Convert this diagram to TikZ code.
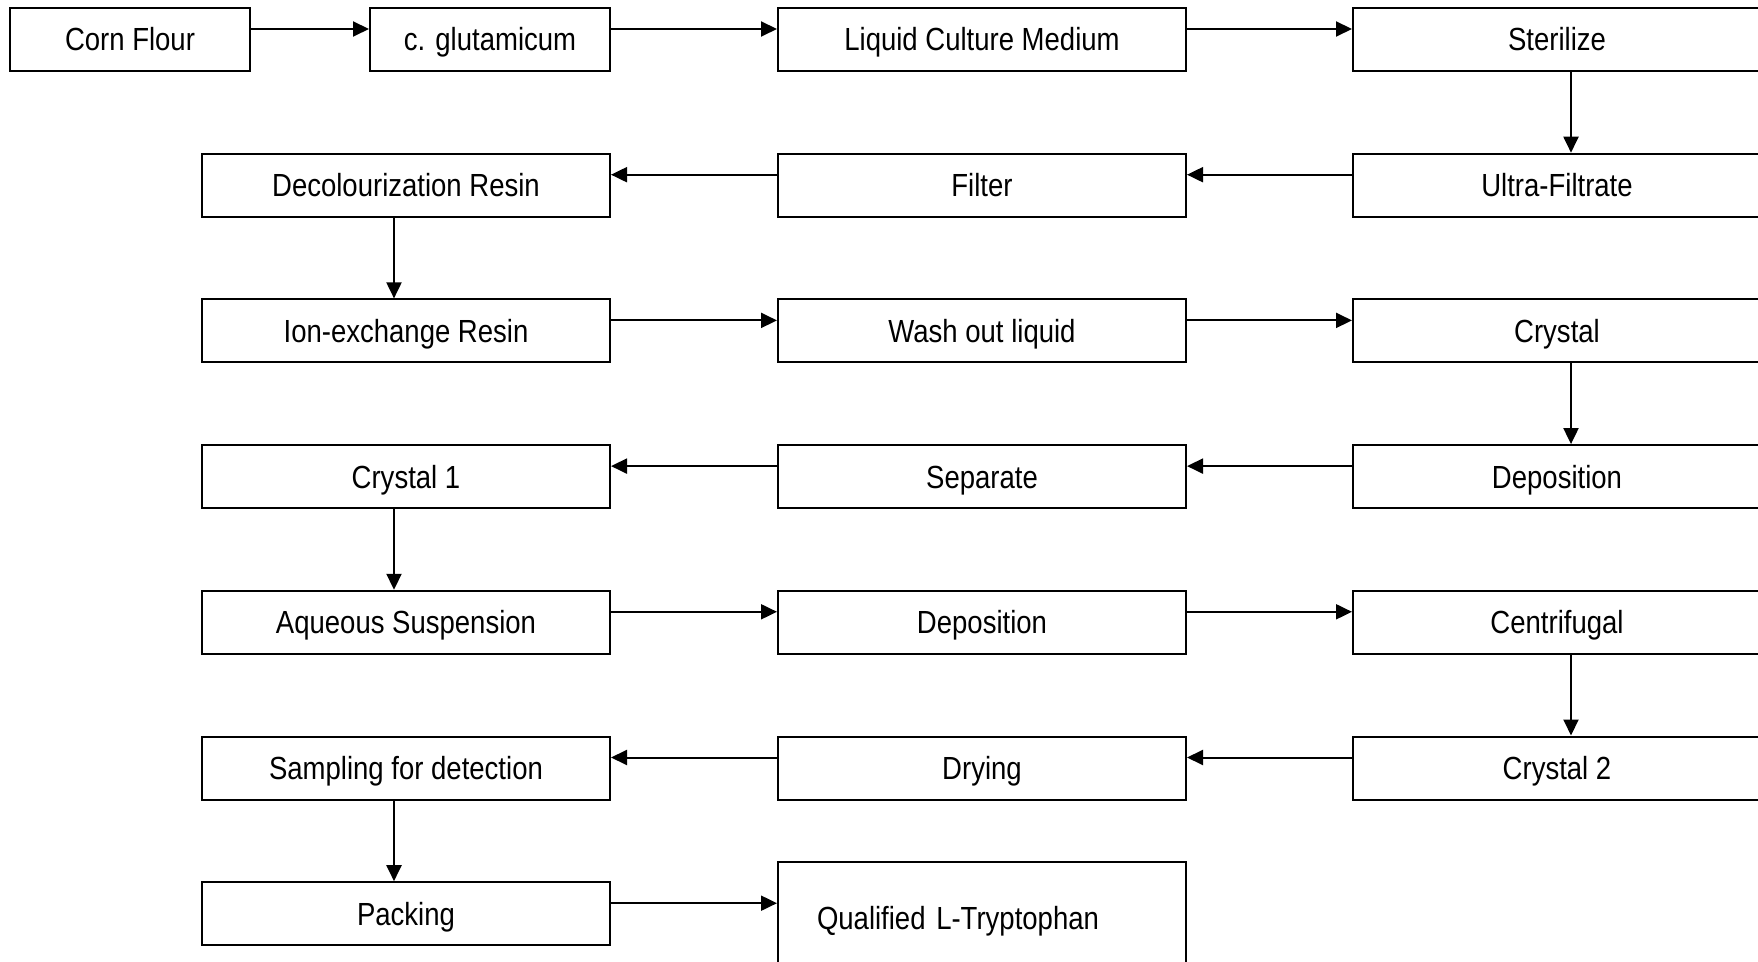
\documentclass[tikz,border=0pt]{standalone}
\usepackage{fontspec}
\setmainfont[FakeStretch=0.86]{Liberation Sans}
\usetikzlibrary{arrows.meta}
\definecolor{boxline}{HTML}{000000}
\definecolor{labelcolor}{HTML}{000000}
\newcommand{\boxwidth}{204pt}
\newcommand{\boxheight}{31.5pt}
\tikzset{
  stepbox/.style={draw=boxline, line width=1pt, minimum width=\boxwidth, minimum height=\boxheight,
    inner sep=0pt, text height=14pt, text depth=2.5pt, font=\fontsize{16}{19}\selectfont\color{labelcolor}},
  startbox/.style={stepbox, minimum width=120pt},
  flow/.style={-{Triangle[length=8pt,width=7.5pt]}, line width=1pt, boxline},
}

\begin{document}
\begin{tikzpicture}[x=0.5pt, y=-0.5pt]
  \useasboundingbox (0,0) rectangle (1758,962);
  \fill[white] (0,0) rectangle (1758,962);
  \clip (0,0) rectangle (1758,962);

  % === ROW 1 ===
  \node[startbox] (corn) at (130,39.5) {Corn Flour};
  \node[startbox] (glut) at (490,39.5) {c. glutamicum};
  \node[stepbox] (liquid) at (982,39.5) {Liquid Culture Medium};
  \node[stepbox] (steril) at (1557,39.5) {Sterilize};

  % === ROW 2 ===
  \node[stepbox] (decol) at (406,185.2) {Decolourization Resin};
  \node[stepbox] (filter) at (982,185.2) {Filter};
  \node[stepbox] (ultra) at (1557,185.2) {Ultra-Filtrate};

  % === ROW 3 ===
  \node[stepbox] (ionex) at (406,330.9) {Ion-exchange Resin};
  \node[stepbox] (wash) at (982,330.9) {Wash out liquid};
  \node[stepbox] (crystal) at (1557,330.9) {Crystal};

  % === ROW 4 ===
  \node[stepbox] (crystalA) at (406,476.6) {Crystal 1};
  \node[stepbox] (separate) at (982,476.6) {Separate};
  \node[stepbox] (deposA) at (1557,476.6) {Deposition};

  % === ROW 5 ===
  \node[stepbox] (aqueous) at (406,622.3) {Aqueous Suspension};
  \node[stepbox] (deposB) at (982,622.3) {Deposition};
  \node[stepbox] (centri) at (1557,622.3) {Centrifugal};

  % === ROW 6 ===
  \node[stepbox] (sampling) at (406,768) {Sampling for detection};
  \node[stepbox] (drying) at (982,768) {Drying};
  \node[stepbox] (crystalB) at (1557,768) {Crystal 2};

  % === ROW 7 ===
  \node[stepbox] (packing) at (406,913.7) {Packing};
  \node[stepbox, minimum height=56pt, text width=165pt, align=left] (product) at (982,918) {Qualified L-Tryptophan};

  % === ARROWS ===
  \draw[flow] ([yshift=5.25pt]corn.east) -- ([yshift=5.25pt]glut.west);
  \draw[flow] ([yshift=5.25pt]glut.east) -- ([yshift=5.25pt]liquid.west);
  \draw[flow] ([yshift=5.25pt]liquid.east) -- ([yshift=5.25pt]steril.west);
  \draw[flow] ([xshift=7pt]steril.south) -- ([xshift=7pt]ultra.north);

  \draw[flow] ([yshift=5.25pt]ultra.west) -- ([yshift=5.25pt]filter.east);
  \draw[flow] ([yshift=5.25pt]filter.west) -- ([yshift=5.25pt]decol.east);
  \draw[flow] ([xshift=-6pt]decol.south) -- ([xshift=-6pt]ionex.north);

  \draw[flow] ([yshift=5.25pt]ionex.east) -- ([yshift=5.25pt]wash.west);
  \draw[flow] ([yshift=5.25pt]wash.east) -- ([yshift=5.25pt]crystal.west);
  \draw[flow] ([xshift=7pt]crystal.south) -- ([xshift=7pt]deposA.north);

  \draw[flow] ([yshift=5.25pt]deposA.west) -- ([yshift=5.25pt]separate.east);
  \draw[flow] ([yshift=5.25pt]separate.west) -- ([yshift=5.25pt]crystalA.east);
  \draw[flow] ([xshift=-6pt]crystalA.south) -- ([xshift=-6pt]aqueous.north);

  \draw[flow] ([yshift=5.25pt]aqueous.east) -- ([yshift=5.25pt]deposB.west);
  \draw[flow] ([yshift=5.25pt]deposB.east) -- ([yshift=5.25pt]centri.west);
  \draw[flow] ([xshift=7pt]centri.south) -- ([xshift=7pt]crystalB.north);

  \draw[flow] ([yshift=5.25pt]crystalB.west) -- ([yshift=5.25pt]drying.east);
  \draw[flow] ([yshift=5.25pt]drying.west) -- ([yshift=5.25pt]sampling.east);
  \draw[flow] ([xshift=-6pt]sampling.south) -- ([xshift=-6pt]packing.north);

  \draw[flow] ([yshift=5.25pt]packing.east) -- ([yshift=5.25pt]packing.east -| product.west);
\end{tikzpicture}
\end{document}
